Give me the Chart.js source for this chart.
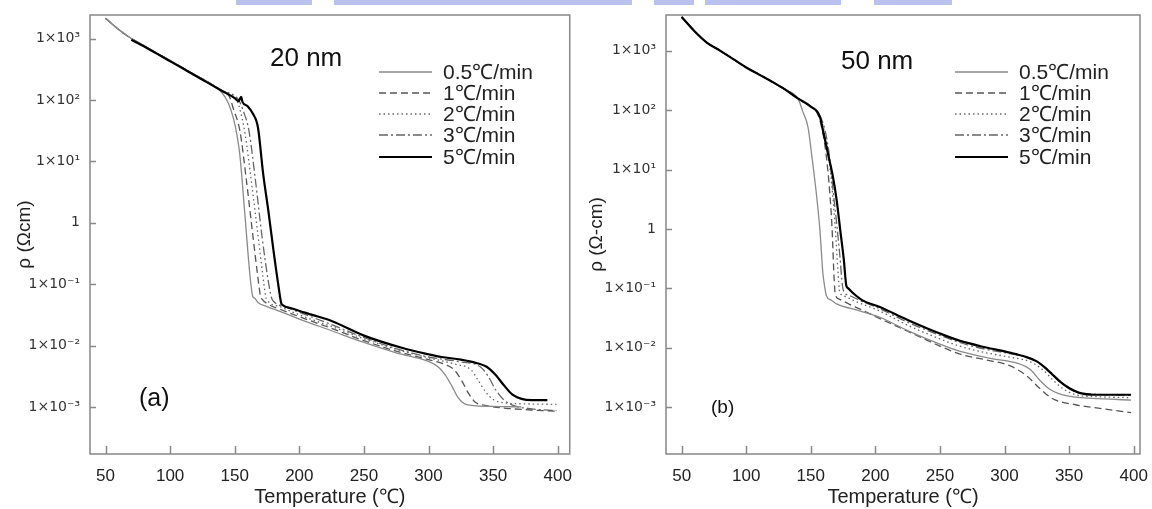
<!DOCTYPE html>
<html>
<head>
<meta charset="utf-8">
<script src="https://cdn.jsdelivr.net/npm/chart.js@4.4.1/dist/chart.umd.min.js"></script>
<style>
  body { margin: 0; background: #fff; width: 1152px; height: 509px; overflow: hidden; position: relative; }
  .panel { position: absolute; top: 0; width: 576px; height: 509px; }
  .strip { position: absolute; top: 0; height: 5px; background: #b9c1ee; }
</style>
</head>
<body>
<div class="strip" style="left:236px;width:76px"></div>
<div class="strip" style="left:334px;width:298px"></div>
<div class="strip" style="left:654px;width:40px"></div>
<div class="strip" style="left:705px;width:136px"></div>
<div class="strip" style="left:874px;width:78px"></div>
<div class="panel" style="left:0"><canvas id="chartA" width="576" height="509"></canvas></div>
<div class="panel" style="left:576px"><canvas id="chartB" width="576" height="509"></canvas></div>
<script>
// axis ticks
const tempTicks = [50, 100, 150, 200, 250, 300, 350, 400];
const rhoTicks = [1e-3, 1e-2, 1e-1, 1, 1e1, 1e2, 1e3];
const rhoTickLabels = ['1×10⁻³', '1×10⁻²', '1×10⁻¹', '1', '1×10¹', '1×10²', '1×10³'];
const rates = ['0.5℃/min', '1℃/min', '2℃/min', '3℃/min', '5℃/min'];

// (a) 20 nm
const headT_A = [50, 60, 70, 80, 90, 100, 110, 120, 130];
const headRho_A = [2140, 1410, 1000, 759, 575, 437, 331, 251, 191];

const tA_05 = [140, 145, 149, 152, 154, 158, 162, 164, 165.5, 168, 175, 185, 200, 225, 250, 275, 300, 308, 313, 318, 323, 328, 335, 350, 372];
const rhoA_05 = [132, 89, 50, 25, 12.6, 1.26, 0.126, 0.063, 0.059, 0.050, 0.043, 0.036, 0.027, 0.0174, 0.0112, 0.0076, 0.0055, 0.0044, 0.0033, 0.0022, 0.0014, 0.00112, 0.00105, 0.00102, 0.00100];

const tA_1 = [140, 146, 149, 154, 159, 164, 168, 170, 171, 176, 185, 200, 225, 250, 275, 300, 312, 320, 326, 331, 336, 345, 360, 380, 399];
const rhoA_1 = [138, 112, 71, 31.6, 5.0, 0.63, 0.126, 0.063, 0.0575, 0.0468, 0.039, 0.0295, 0.019, 0.012, 0.0081, 0.0059, 0.005, 0.004, 0.0026, 0.00166, 0.0012, 0.00105, 0.00095, 0.00089, 0.00085];

const tA_2 = [140, 151, 154, 158, 163, 168, 172, 174, 175, 185, 200, 225, 250, 275, 300, 320, 333, 338, 344, 350, 358, 375, 399];
const rhoA_2 = [141, 105, 71, 28.2, 4.47, 0.63, 0.126, 0.063, 0.055, 0.043, 0.0316, 0.0204, 0.0129, 0.0087, 0.0063, 0.005, 0.004, 0.0028, 0.00178, 0.00132, 0.00117, 0.00112, 0.0011];

const tA_3 = [140, 153, 157, 161, 166, 171, 176, 178.5, 180, 190, 200, 225, 250, 275, 300, 325, 340, 346, 352, 358, 365, 380, 399];
const rhoA_3 = [141, 100, 63, 31.6, 5.0, 0.63, 0.112, 0.060, 0.0525, 0.042, 0.0347, 0.0219, 0.0135, 0.0089, 0.0065, 0.0054, 0.0045, 0.0032, 0.0019, 0.00132, 0.00107, 0.00093, 0.00087];

const tA_5 = [70, 80, 90, 100, 110, 120, 130, 140, 150, 153, 155, 156, 160, 164, 168, 172, 176, 180, 184, 186, 187, 195, 210, 225, 250, 280, 300, 310, 325, 337, 345, 352, 358, 365, 372, 380, 392];
const rhoA_5 = [955, 741, 562, 427, 324, 245, 186, 141, 107, 95.5, 112, 93, 79, 60, 35.5, 6.3, 1.58, 0.355, 0.089, 0.049, 0.0457, 0.0398, 0.0316, 0.0251, 0.0145, 0.0091, 0.0072, 0.0065, 0.0059, 0.0052, 0.0045, 0.0033, 0.0023, 0.00158, 0.00135, 0.00129, 0.00129];

// (b) 50 nm
const headT_B = [50, 60, 70, 80, 90, 100, 110, 120, 130, 140];
const headRho_B = [3720, 2140, 1350, 1000, 724, 525, 398, 302, 224, 158];

const tB_05 = [144, 147.8, 151, 154.3, 157, 159.4, 161, 162, 166, 170, 187.8, 203, 225, 250, 265, 290, 311, 320, 327, 335, 342, 355, 368, 398];
const rhoB_05 = [93, 52.5, 15.8, 3.98, 1.0, 0.178, 0.1, 0.076, 0.063, 0.055, 0.042, 0.033, 0.0195, 0.0115, 0.0088, 0.0066, 0.0054, 0.0043, 0.0029, 0.002, 0.0017, 0.00148, 0.00141, 0.00132];

const tB_1 = [150, 155, 158, 161, 164, 166.5, 168, 169, 172, 180, 190, 205, 225, 250, 265, 285, 304, 317, 327, 337, 355, 375, 398];
const rhoB_1 = [115, 89, 56, 25, 6.3, 1.0, 0.158, 0.079, 0.066, 0.054, 0.043, 0.03, 0.019, 0.0107, 0.0079, 0.0063, 0.005, 0.0034, 0.0021, 0.0014, 0.0011, 0.00095, 0.00081];

const tB_2 = [150, 155, 159, 163, 166, 169, 171, 172.3, 175, 185, 203, 225, 250, 265, 285, 305, 320, 330, 338, 346, 355, 370, 398];
const rhoB_2 = [115, 93, 60, 22.4, 6.3, 1.0, 0.2, 0.089, 0.076, 0.06, 0.042, 0.024, 0.0141, 0.0107, 0.0083, 0.0069, 0.0058, 0.0042, 0.0028, 0.002, 0.00162, 0.00151, 0.00145];

const tB_3 = [150, 155, 160, 164, 167, 170, 172.5, 174.5, 175.5, 180, 190, 203, 225, 250, 265, 285, 305, 320, 330, 340, 348, 356, 370, 398];
const rhoB_3 = [115, 93, 56, 20, 5.0, 1.26, 0.355, 0.112, 0.089, 0.076, 0.06, 0.046, 0.027, 0.0162, 0.0123, 0.0095, 0.0079, 0.0066, 0.005, 0.0032, 0.0022, 0.00178, 0.00166, 0.00158];

const tB_5 = [150, 157, 160, 163.5, 167, 170, 173, 175.5, 177.5, 179, 184, 190, 203, 225, 250, 265, 285, 304, 315, 325, 333, 342, 350, 358, 370, 398];
const rhoB_5 = [115, 78, 40, 17.8, 7.9, 3.1, 0.89, 0.316, 0.112, 0.1, 0.079, 0.063, 0.049, 0.0295, 0.0174, 0.0132, 0.0102, 0.0083, 0.0072, 0.0059, 0.0043, 0.0028, 0.0021, 0.00174, 0.00162, 0.00162];

const lineStyles = [
    { color: '#8a8a8a', dash: [], width: 1.3 },
    { color: '#555', dash: [7, 4], width: 1.3 },
    { color: '#666', dash: [1.5, 3], width: 1.3 },
    { color: '#666', dash: [9, 3, 2, 3], width: 1.3 },
    { color: '#000', dash: [], width: 2.2 },
];

const FONT = '"Liberation Sans", Arial, sans-serif';

function points(ts, rhos) {
    return ts.map((t, i) => ({ x: t, y: rhos[i] }));
}

const frameAndLegend = {
    id: 'frameAndLegend',
    afterDatasetsDraw(chart, args, opts) {
        const { ctx, chartArea: a, scales: { x, y } } = chart;
        ctx.save();
        ctx.strokeStyle = '#888';
        ctx.lineWidth = 1.5;
        ctx.setLineDash([]);
        ctx.strokeRect(a.left, a.top, a.right - a.left, a.bottom - a.top);
        ctx.beginPath();
        x.ticks.forEach(t => {
            const px = Math.round(x.getPixelForValue(t.value)) + 0.5;
            ctx.moveTo(px, a.bottom);
            ctx.lineTo(px, a.bottom - 8);
        });
        y.ticks.forEach(t => {
            const py = Math.round(y.getPixelForValue(t.value)) + 0.5;
            ctx.moveTo(a.left, py);
            ctx.lineTo(a.left + 6, py);
        });
        ctx.stroke();

        // legend
        ctx.font = '21px ' + FONT;
        ctx.fillStyle = '#222';
        ctx.textBaseline = 'middle';
        rates.forEach((r, i) => {
            const ly = opts.legendY[i];
            const s = lineStyles[i];
            ctx.strokeStyle = s.color;
            ctx.lineWidth = s.width;
            ctx.setLineDash(s.dash);
            ctx.beginPath();
            ctx.moveTo(379, ly);
            ctx.lineTo(432, ly);
            ctx.stroke();
            ctx.fillText(r, 443, ly + 1);
        });

        ctx.font = '26px ' + FONT;
        ctx.fillStyle = '#111';
        ctx.fillText(opts.size, opts.sizeX, opts.sizeY);
        ctx.font = opts.tagFont;
        ctx.fillText(opts.tag, opts.tagX, opts.tagY);
        ctx.restore();
    }
};

function makeChart(id, cfg) {
    const series = cfg.series.map((s, i) => ({
        label: rates[i],
        data: points(s[0], s[1]),
        borderColor: lineStyles[i].color,
        borderWidth: lineStyles[i].width,
        borderDash: lineStyles[i].dash,
        pointRadius: 0,
        fill: false,
        cubicInterpolationMode: 'monotone',
        order: i === 4 ? 0 : 1,
    }));
    return new Chart(document.getElementById(id), {
        type: 'line',
        data: { datasets: series },
        options: {
            responsive: false,
            animation: false,
            layout: { padding: { left: 0, right: cfg.padRight, top: 15, bottom: 0 } },
            plugins: {
                legend: { display: false },
                tooltip: { enabled: false },
                frameAndLegend: cfg.decor,
            },
            scales: {
                x: {
                    type: 'linear',
                    min: cfg.xMin,
                    max: cfg.xMax,
                    afterBuildTicks: s => { s.ticks = tempTicks.map(v => ({ value: v })); },
                    afterFit: s => { s.height = 55; },
                    grid: { display: false },
                    border: { display: false },
                    ticks: {
                        padding: 4,
                        color: '#222',
                        font: { size: 17, family: FONT },
                        callback: v => String(v),
                    },
                    title: {
                        display: true,
                        text: 'Temperature (℃)',
                        color: '#222',
                        padding: { top: 0, bottom: 0 },
                        font: { size: 20, family: FONT },
                    },
                },
                y: {
                    type: 'logarithmic',
                    min: cfg.yMin,
                    max: cfg.yMax,
                    afterBuildTicks: s => { s.ticks = rhoTicks.map(v => ({ value: v })); },
                    afterFit: s => { s.width = 90; },
                    grid: { display: false },
                    border: { display: false },
                    ticks: {
                        padding: 2,
                        color: '#333',
                        font: { size: 14, family: '"DejaVu Sans", sans-serif' },
                        callback: v => rhoTickLabels[rhoTicks.indexOf(v)] ?? '',
                    },
                    title: {
                        display: true,
                        text: cfg.yTitle,
                        color: '#222',
                        padding: { top: cfg.yTitlePad, bottom: 0 },
                        font: { size: 19, family: FONT },
                    },
                },
            },
        },
        plugins: [frameAndLegend],
    });
}

makeChart('chartA', {
    series: [
        [headT_A.concat(tA_05), headRho_A.concat(rhoA_05)],
        [headT_A.concat(tA_1), headRho_A.concat(rhoA_1)],
        [headT_A.concat(tA_2), headRho_A.concat(rhoA_2)],
        [headT_A.concat(tA_3), headRho_A.concat(rhoA_3)],
        [tA_5, rhoA_5],
    ],
    xMin: 38, xMax: 409.3, yMin: 1.71e-4, yMax: 2415, padRight: 4,
    yTitle: 'ρ (Ωcm)', yTitlePad: 13,
    decor: {
        legendY: [72, 93, 114, 135, 157],
        size: '20 nm', sizeX: 270, sizeY: 59,
        tag: '(a)', tagFont: '25px ' + FONT, tagX: 139, tagY: 399,
    },
});

makeChart('chartB', {
    series: [
        [headT_B.concat(tB_05), headRho_B.concat(rhoB_05)],
        [headT_B.concat(tB_1), headRho_B.concat(rhoB_1)],
        [headT_B.concat(tB_2), headRho_B.concat(rhoB_2)],
        [headT_B.concat(tB_3), headRho_B.concat(rhoB_3)],
        [headT_B.concat(tB_5), headRho_B.concat(rhoB_5)],
    ],
    xMin: 37.9, xMax: 404.9, yMin: 1.63e-4, yMax: 4010, padRight: 11,
    yTitle: 'ρ (Ω-cm)', yTitlePad: 9,
    decor: {
        legendY: [72, 93, 114, 135, 157],
        size: '50 nm', sizeX: 265, sizeY: 62,
        tag: '(b)', tagFont: '19px ' + FONT, tagX: 135, tagY: 408,
    },
});
</script>
</body>
</html>
